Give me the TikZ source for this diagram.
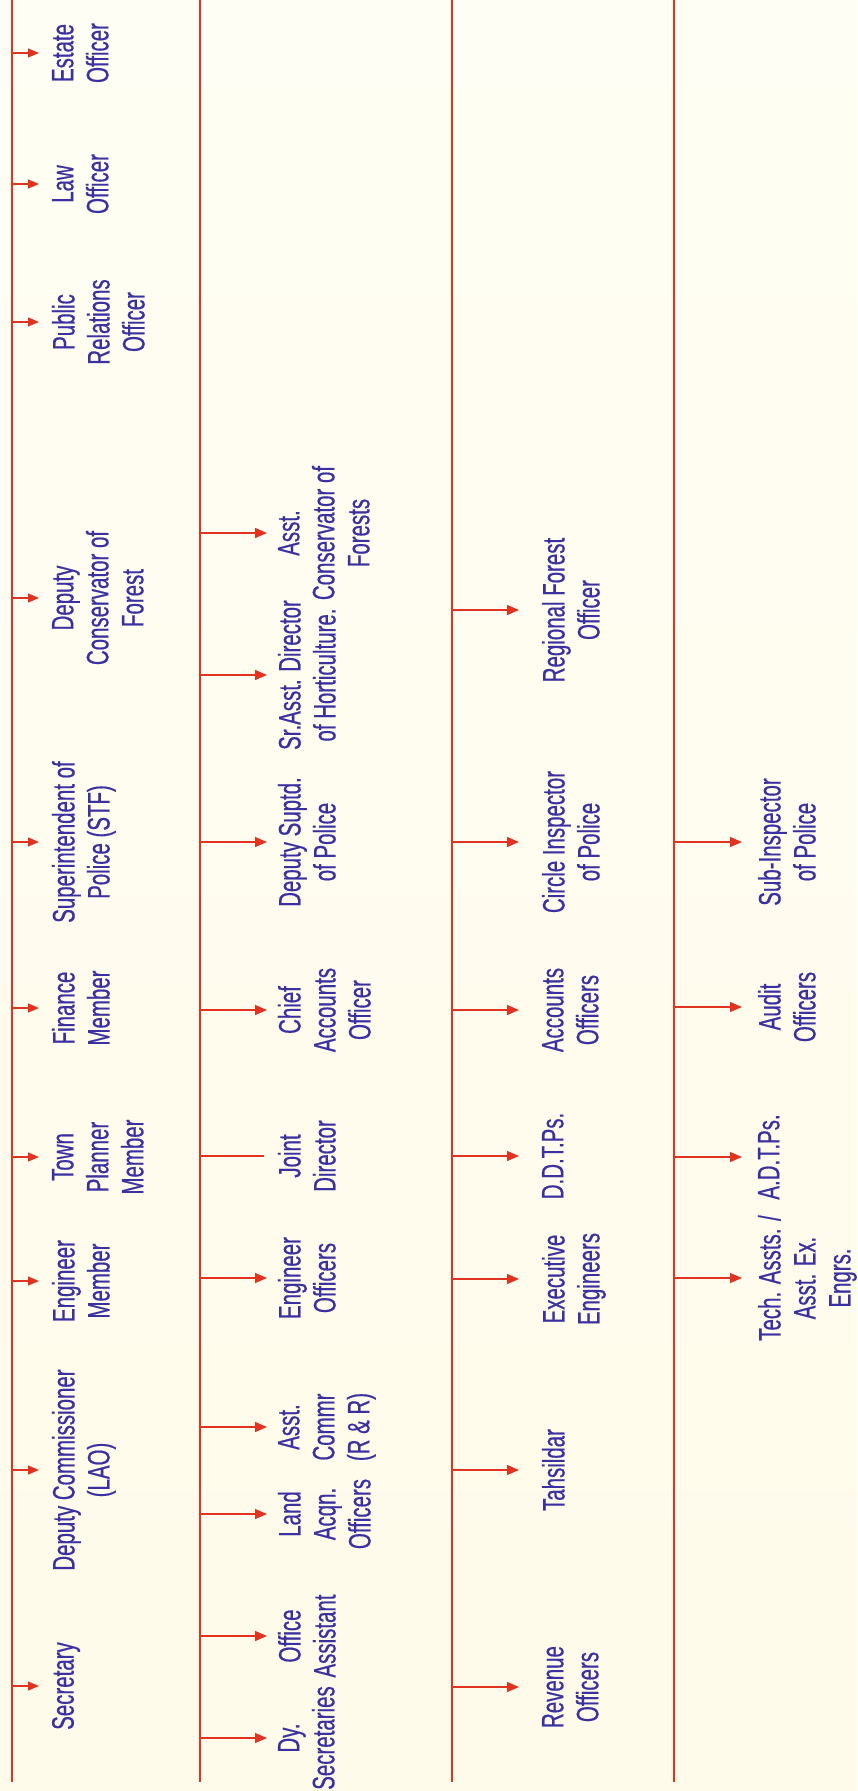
\documentclass[tikz,border=0pt]{standalone}
\usepackage{fontspec}
\setmainfont{Liberation Sans}[FakeStretch=0.66,FakeBold=0.5]
\usetikzlibrary{arrows.meta}

\definecolor{chartred}{HTML}{E23320}
\definecolor{chartblue}{HTML}{3A30A0}
\definecolor{creamtop}{HTML}{FFFEF4}
\definecolor{creambot}{HTML}{FFFBEA}

\newcommand{\postfont}{\fontsize{31}{35}\selectfont}

\tikzset{
    post/.style={rotate=90, anchor=north, align=center, inner sep=0pt, outer sep=0pt, text=chartblue, font=\postfont},
    trunk/.style={draw=chartred, line width=2pt},
    branch/.style={draw=chartred, line width=1.4pt},
    arrowshort/.style={branch, -{Triangle[length=11pt,width=9pt]}, shorten >=13pt},
    arrowlong/.style={branch, -{Triangle[length=12pt,width=10pt]}},
}

\begin{document}
\begin{tikzpicture}[x=1pt,y=1pt]

    % Background and page size
    \shade[top color=creamtop, bottom color=creambot] (0,0) rectangle (857,-1791);
    \useasboundingbox (0,0) rectangle (857,-1791);

    % Trunk lines
    \coordinate (top1) at (12,0);  \coordinate (bot1) at (12,-1782);
    \coordinate (top2) at (200,0); \coordinate (bot2) at (200,-1782);
    \coordinate (top3) at (452,0); \coordinate (bot3) at (452,-1782);
    \coordinate (top4) at (674,0); \coordinate (bot4) at (674,-1782);
    \draw[trunk] (top1) -- (bot1);
    \draw[trunk] (top2) -- (bot2);
    \draw[trunk] (top3) -- (bot3);
    \draw[trunk] (top4) -- (bot4);

    % Column 1
    \node[post] (estate) at (52,-53) {Estate\\Officer};
    \node[post] (law) at (52,-184) {Law\\Officer};
    \node[post] (pro) at (52,-322) {Public\\Relations\\Officer};
    \node[post] (dcf) at (52,-598) {Deputy\\Conservator of\\Forest};
    \node[post] (sp) at (52,-842) {Superintendent of\\Police (STF)};
    \node[post] (finance) at (52,-1008) {Finance\\Member};
    \node[post] (tpm) at (52,-1157) {Town\\Planner\\Member};
    \node[post] (engm) at (52,-1281) {Engineer\\Member};
    \node[post] (dc) at (52,-1470) {Deputy Commissioner\\(LAO)};
    \node[post] (secy) at (52,-1686) {Secretary};

    \draw[arrowshort] (top1 |- estate) -- (estate);
    \draw[arrowshort] (top1 |- law) -- (law);
    \draw[arrowshort] (top1 |- pro) -- (pro);
    \draw[arrowshort] (top1 |- dcf) -- (dcf);
    \draw[arrowshort] (top1 |- sp) -- (sp);
    \draw[arrowshort] (top1 |- finance) -- (finance);
    \draw[arrowshort] (top1 |- tpm) -- (tpm);
    \draw[arrowshort] (top1 |- engm) -- (engm);
    \draw[arrowshort] (top1 |- dc) -- (dc);
    \draw[arrowshort] (top1 |- secy) -- (secy);

    % Column 2
    \node[post] (acf) at (278,-533) {Asst.\\Conservator of\\Forests};
    \node[post] (sadh) at (278,-675) {Sr.Asst. Director\\of Horticulture.};
    \node[post] (dsp) at (278,-842) {Deputy Suptd.\\of Police};
    \node[post] (cao) at (278,-1010) {Chief\\Accounts\\Officer};
    \node[post] (jd) at (278,-1156) {Joint\\Director};
    \node[post] (engo) at (278,-1278) {Engineer\\Officers};
    \node[post] (acrr) at (278,-1427) {Asst.\\Commr\\(R \& R)};
    \node[post] (lao) at (278,-1514) {Land\\Acqn.\\Officers};
    \node[post] (oa) at (278,-1636) {Office\\Assistant};
    \node[post] (dys) at (278,-1738) {Dy.\\Secretaries};

    \draw[arrowlong, shorten >=11pt] (top2 |- acf) -- (acf);
    \draw[arrowlong, shorten >=11pt] (top2 |- sadh) -- (sadh);
    \draw[arrowlong, shorten >=11pt] (top2 |- dsp) -- (dsp);
    \draw[arrowlong, shorten >=11pt] (top2 |- cao) -- (cao);
    \draw[branch, shorten >=14pt] (top2 |- jd) -- (jd);
    \draw[arrowlong, shorten >=11pt] (top2 |- engo) -- (engo);
    \draw[arrowlong, shorten >=11pt] (top2 |- acrr) -- (acrr);
    \draw[arrowlong, shorten >=11pt] (top2 |- lao) -- (lao);
    \draw[arrowlong, shorten >=11pt] (top2 |- oa) -- (oa);
    \draw[arrowlong, shorten >=11pt] (top2 |- dys) -- (dys);

    % Column 3
    \node[post] (rfo) at (542,-610) {Regional Forest\\Officer};
    \node[post] (cip) at (542,-842) {Circle Inspector\\of Police};
    \node[post] (ao) at (542,-1010) {Accounts\\Officers};
    \node[post] (ddtp) at (542,-1156) {D.D.T.Ps.};
    \node[post] (ee) at (542,-1279) {Executive\\Engineers};
    \node[post] (tah) at (542,-1470) {Tahsildar};
    \node[post] (ro) at (542,-1687) {Revenue\\Officers};

    \draw[arrowlong, shorten >=23pt] (top3 |- rfo) -- (rfo);
    \draw[arrowlong, shorten >=23pt] (top3 |- cip) -- (cip);
    \draw[arrowlong, shorten >=23pt] (top3 |- ao) -- (ao);
    \draw[arrowlong, shorten >=23pt] (top3 |- ddtp) -- (ddtp);
    \draw[arrowlong, shorten >=23pt] (top3 |- ee) -- (ee);
    \draw[arrowlong, shorten >=23pt] (top3 |- tah) -- (tah);
    \draw[arrowlong, shorten >=23pt] (top3 |- ro) -- (ro);

    % Column 4
    \node[post] (sip) at (758,-842) {Sub-Inspector\\of Police};
    \node[post] (audo) at (758,-1007) {Audit\\Officers};
    \node[post] (adtp) at (758,-1157) {A.D.T.Ps.};
    \node[post] (ta) at (758,-1278) {Tech. Assts. /\\Asst. Ex.\\Engrs.};

    \draw[arrowlong, shorten >=16pt] (top4 |- sip) -- (sip);
    \draw[arrowlong, shorten >=16pt] (top4 |- audo) -- (audo);
    \draw[arrowlong, shorten >=16pt] (top4 |- adtp) -- (adtp);
    \draw[arrowlong, shorten >=16pt] (top4 |- ta) -- (ta);

\end{tikzpicture}
\end{document}
